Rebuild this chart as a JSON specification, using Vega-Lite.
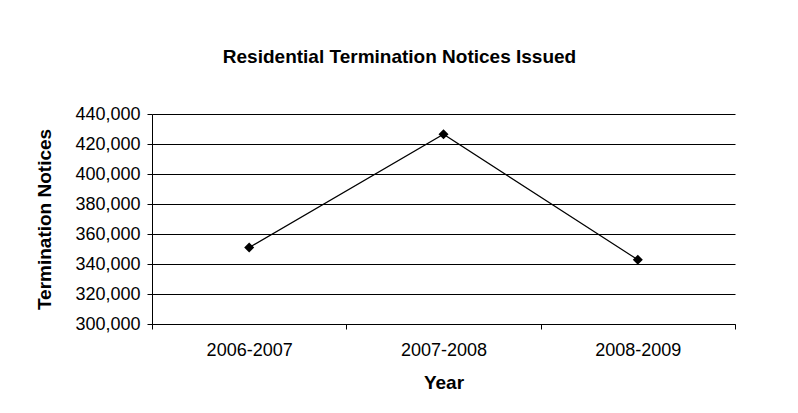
{
  "$schema": "https://vega.github.io/schema/vega-lite/v6.json",
  "autosize": "none",
  "width": 583,
  "height": 210,
  "padding": {"left": 152, "top": 114, "right": 63, "bottom": 89},
  "background": "white",
  "config": {"view": {"stroke": null}, "font": "Liberation Sans"},
  "title": {
    "text": "Residential Termination Notices Issued",
    "anchor": "middle",
    "frame": "group",
    "fontSize": 19,
    "fontWeight": "bold",
    "font": "Liberation Sans",
    "color": "black",
    "offset": 38,
    "dx": -44
  },
  "data": {
    "values": [
      {"Year": "2006-2007", "Notices": 351000},
      {"Year": "2007-2008", "Notices": 426500},
      {"Year": "2008-2009", "Notices": 342800}
    ]
  },
  "encoding": {
    "x": {
      "field": "Year",
      "type": "ordinal",
      "scale": {"paddingInner": 0, "paddingOuter": 0},
      "axis": {
        "title": "Year",
        "labelAngle": 0,
        "tickBand": "extent",
        "grid": false,
        "domainColor": "black",
        "domainWidth": 1,
        "tickColor": "black",
        "tickSize": 5,
        "labelFontSize": 18,
        "labelColor": "black",
        "labelPadding": 12,
        "titleFontSize": 19,
        "titleFontWeight": "bold",
        "titleColor": "black",
        "titlePadding": 14
      }
    },
    "y": {
      "field": "Notices",
      "type": "quantitative",
      "scale": {"domain": [300000, 440000], "nice": false, "zero": false},
      "axis": {
        "title": "Termination Notices",
        "values": [300000, 320000, 340000, 360000, 380000, 400000, 420000, 440000],
        "format": ",d",
        "grid": true,
        "gridColor": "black",
        "gridWidth": 1,
        "gridOpacity": 1,
        "domainColor": "black",
        "tickColor": "black",
        "tickSize": 5,
        "labelFontSize": 18,
        "labelColor": "black",
        "labelPadding": 7,
        "titleFontSize": 19,
        "titleFontWeight": "bold",
        "titleColor": "black",
        "titlePadding": 20
      }
    }
  },
  "layer": [
    {"mark": {"type": "line", "color": "black", "strokeWidth": 1.2}},
    {"mark": {"type": "point", "shape": "diamond", "filled": true, "color": "black", "size": 100, "opacity": 1}}
  ]
}
